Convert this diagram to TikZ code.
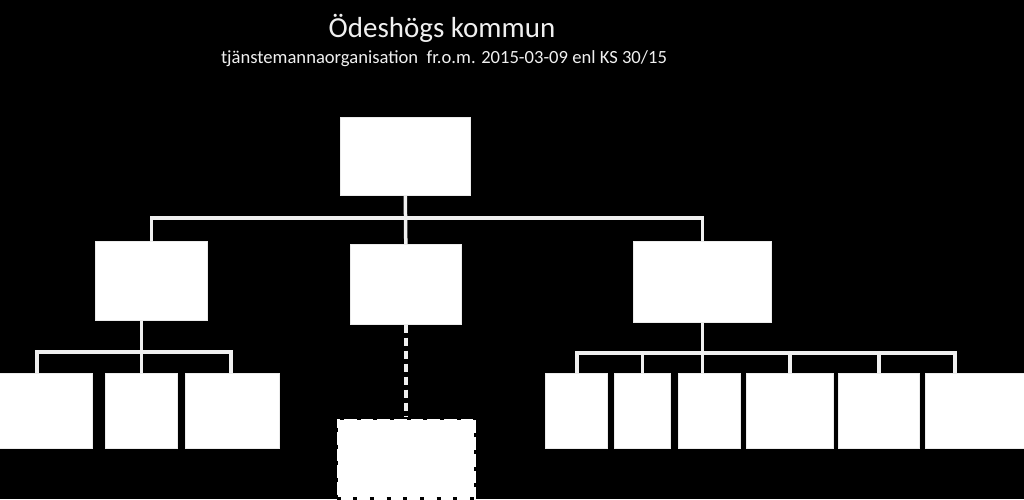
\documentclass[tikz,border=0pt]{standalone}
\usepackage{fontspec}
\setmainfont{Carlito}
\begin{document}
\begin{tikzpicture}[x=1pt,y=-1pt,
  box/.style={draw=white!92!black,line width=0.6pt,fill=white,inner sep=0pt,anchor=north west},
  conn/.style={draw=white!94!black,line width=3.5pt},
  dconn/.style={draw=white!94!black,line width=4pt,dash pattern=on 8pt off 5pt},
  dbox/.style={fill=white,draw=black,line width=3pt,dash pattern=on 4pt off 12.7pt,inner sep=0pt,anchor=north west}]
\useasboundingbox (0,0) rectangle (1024,499);
\fill[black] (0,0) rectangle (1024,499);
\clip (0,0) rectangle (1024,499);
\newcommand{\bx}[5]{\node[box,minimum width=#4pt-#2pt,minimum height=#5pt-#3pt] (#1) at (#2,#3) {};}
\node[text=white!94!black,font=\fontsize{29}{34}\selectfont,anchor=base] (title) at (442,37) {Ödeshögs kommun};
\node[text=white!94!black,font=\fontsize{18.6}{22}\selectfont,anchor=base] (sub) at (444,63) {tjänstemannaorganisation\ \ fr.o.m. 2015-03-09 enl KS 30/15};
\bx{top}{340}{117}{470}{195}
\bx{lb}{95}{241}{207}{320}
\bx{mb}{350}{244}{461}{324}
\bx{rb}{633}{241}{771}{322}
\bx{bla}{-3}{373}{92}{448}
\bx{blb}{105}{373}{177}{448}
\bx{blc}{185}{373}{279}{448}
\bx{rba}{545}{373}{607}{448}
\bx{rbb}{614}{373}{670}{448}
\bx{rbc}{678}{373}{740}{448}
\bx{rbd}{746}{373}{833}{448}
\bx{rbe}{838}{373}{919}{448}
\bx{rbf}{925}{373}{1030}{448}
\node[dbox,minimum width=139pt,minimum height=80pt] (dbx) at (335,417) {};
% top level
\coordinate (tbar) at (405,218);
\draw[conn] (top.south) -- (mb.north);
\draw[conn] (lb.north) |- (tbar) -| (rb.north);
% left group
\coordinate (lbarl) at (37,352);
\coordinate (lbarr) at (231,352);
\draw[conn] (lb.south -| blb.north) -- (blb.north);
\draw[conn] (lbarl |- bla.north) -- (lbarl) -- (lbarr) -- (lbarr |- blc.north);
% right group
\coordinate (rbarl) at (577,353);
\coordinate (rbarr) at (955,353);
\draw[conn] (rb.south) -- (rb.south |- rbc.north);
\draw[conn] (rbarl |- rba.north) -- (rbarl) -- (rbarr) -- (rbarr |- rbf.north);
\draw[conn] (rbb.north) -- (rbb.north |- rbarl);
\draw[conn] (rbd.north) -- (rbd.north |- rbarl);
\draw[conn] (rbe.north) -- (rbe.north |- rbarl);
% dashed
\draw[dconn] (mb.south) -- (mb.south |- dbx.north);
\end{tikzpicture}
\end{document}
